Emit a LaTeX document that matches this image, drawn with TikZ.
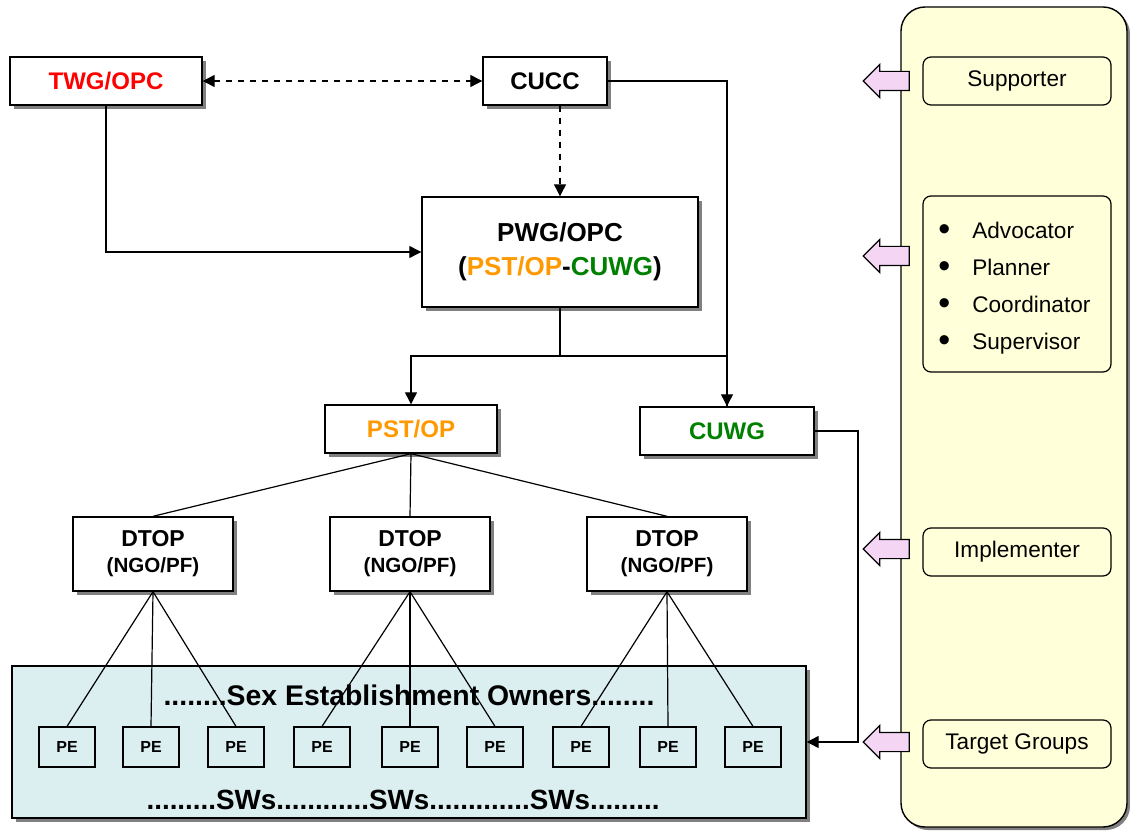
\documentclass[tikz,border=0pt]{standalone}
\usepackage{fontspec}
\setmainfont{Liberation Sans}
\usetikzlibrary{shadows,shapes.arrows,arrows.meta}
\definecolor{orgorange}{HTML}{FF9900}
\definecolor{orggreen}{HTML}{008000}
\definecolor{basefill}{HTML}{DBEEF0}
\definecolor{panelfill}{HTML}{FFFFD9}
\definecolor{pinkfill}{HTML}{F4D6F4}

\tikzstyle{shade}=[drop shadow={shadow xshift=2pt, shadow yshift=-2pt, fill=black!50, opacity=1}]
\tikzstyle{unit}=[draw, fill=white, line width=0.7pt, inner sep=0pt, shade, font=\bfseries\fontsize{12}{14}\selectfont, align=center]
\tikzstyle{pebox}=[draw, fill=basefill, line width=0.6pt, inner sep=0pt, minimum width=28pt, minimum height=20pt, font=\bfseries\fontsize{8}{9}\selectfont]
\tikzstyle{role}=[draw, rounded corners=4pt, fill=panelfill, line width=0.6pt, inner sep=0pt, minimum width=94pt, font=\fontsize{11.3}{13.5}\selectfont]
\tikzstyle{roleptr}=[draw, fill=pinkfill, line width=0.6pt, single arrow, shape border rotate=180, single arrow head extend=3.5pt, minimum height=23pt, inner xsep=0pt, inner ysep=4.5pt]
\tikzstyle{link}=[line width=0.6pt]
\tikzstyle{tip}=[-{Triangle[length=6pt,width=6pt]}]
\tikzstyle{dep}=[tip, link]
\newcommand{\dutybullet}{\raisebox{-1pt}{\fontsize{17}{17}\selectfont\textbullet}}

\begin{document}
\begin{tikzpicture}[x=0.5pt, y=-0.5pt]
      \useasboundingbox (0,0) rectangle (1130,834);
      % right-hand panel of roles
      \node[draw, fill=panelfill, rounded corners=12pt, line width=0.7pt, minimum width=113pt, minimum height=410pt,
            drop shadow={shadow xshift=1.5pt, shadow yshift=-1.5pt, fill=black!50, opacity=1}] (panel) at (1014,417) {};
      \node[role, minimum height=24pt] (supporter) at (1017,81) {Supporter};
      \node[role, minimum height=88pt] (duties) at (1017,284) {};
      \node[font=\fontsize{11.3}{13.5}\selectfont, inner sep=0pt, anchor=west] (duties-list) at (938,289)
        {\begin{tabular}{@{}l@{\hspace{11pt}}l@{}}
          \dutybullet & Advocator\\[5pt]
          \dutybullet & Planner\\[5pt]
          \dutybullet & Coordinator\\[5pt]
          \dutybullet & Supervisor
        \end{tabular}};
      \node[role, minimum height=24pt] (implementer) at (1017,552) {Implementer};
      \node[role, minimum height=24pt] (target) at (1017,744) {Target Groups};
      \foreach \r/\y in {supporter/81, duties/256, implementer/549, target/742} {%
        \node[roleptr] (ptr-\r) at (891,\y) {};
      }
      % base of target groups
      \node[draw, fill=basefill, line width=0.7pt, minimum width=397pt, minimum height=76pt, shade] (base) at (409,742) {};
      \node[font=\bfseries\fontsize{14.2}{16}\selectfont] (owners) at (409,695) {........Sex Establishment Owners........};
      \node[font=\bfseries\fontsize{13.9}{16}\selectfont] (sws) at (403,800) {.........SWs............SWs.............SWs.........};
      \foreach \x [count=\i] in {67, 151, 236, 322, 410, 495, 581, 668, 753} {%
        \node[pebox] (pe\i) at (\x,747) {PE};
      }
      % boxes of the structure
      \node[unit, minimum width=96pt, minimum height=24pt, text=red] (twg) at (106,81) {TWG/OPC};
      \node[unit, minimum width=62pt, minimum height=24pt] (cucc) at (545,81) {CUCC};
      \node[unit, minimum width=138pt, minimum height=55pt, font=\bfseries\fontsize{13}{17}\selectfont] (pwg) at (560,252)
        {PWG/OPC\\(\textcolor{orgorange}{PST/OP}-\textcolor{orggreen}{CUWG})};
      \node[unit, minimum width=86pt, minimum height=24pt, text=orgorange] (pst) at (411,429) {PST/OP};
      \node[unit, minimum width=87pt, minimum height=24pt, text=orggreen] (cuwg) at (727,431) {CUWG};
      \foreach \x [count=\i] in {153, 410, 667} {%
        \node[unit, minimum width=80pt, minimum height=37pt, font=\bfseries\fontsize{11.5}{14}\selectfont] (dtop\i) at (\x,554)
          {DTOP\\[-1pt]{\fontsize{10.3}{12}\selectfont(NGO/PF)}};
      }
      % connectors
      \draw[link, dashed, {Triangle[length=6pt,width=6pt]}-{Triangle[length=6pt,width=6pt]}] (twg) -- (cucc);
      \draw[dep, dashed] (cucc.south -| pwg.north) -- (pwg.north);
      \draw[dep] (twg.south) |- (pwg.west);
      \draw[dep] (cucc.east) -| (cuwg.north);
      \coordinate (split) at (560,356);
      \draw[link] (pwg.south) -- (split);
      \draw[dep] (split) -| (pst.north);
      \draw[link] (split) -| (cuwg.north);
      \coordinate (turn) at (858,431);
      \draw[dep] (cuwg.east) -- (turn) |- (base.east);
      \foreach \i in {1, 2, 3} {%
        \draw[link] (pst.south) -- (dtop\i.north);
      }
      \foreach \d/\a/\b/\c in {1/1/2/3, 2/4/5/6, 3/7/8/9} {%
        \draw[link] (dtop\d.south) -- (pe\a.north);
        \draw[link] (dtop\d.south) -- (pe\b.north);
        \draw[link] (dtop\d.south) -- (pe\c.north);
      }
    \end{tikzpicture}
\end{document}
